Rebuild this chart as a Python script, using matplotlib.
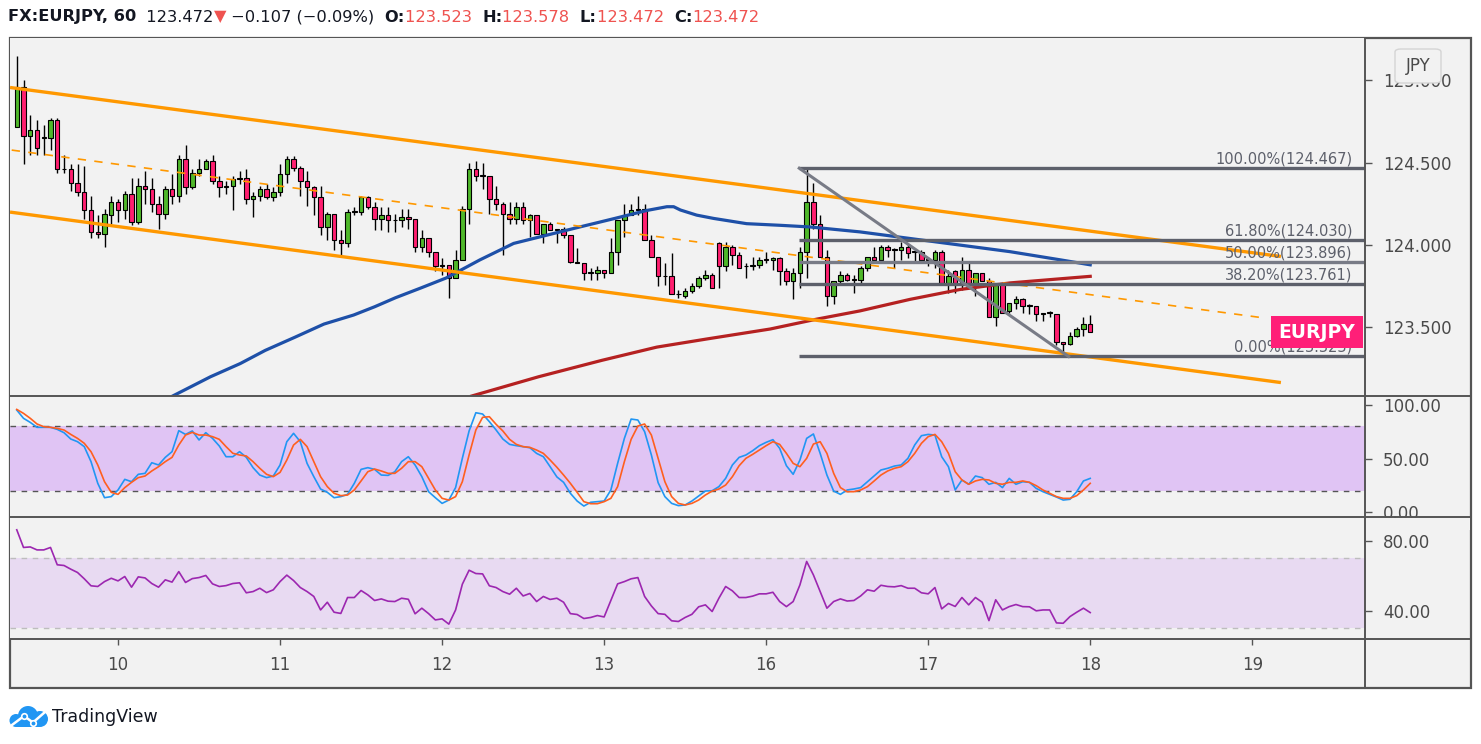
import numpy as np
import matplotlib
matplotlib.use("Agg")
import matplotlib.pyplot as plt
from matplotlib.patches import Rectangle, Circle, FancyBboxPatch
from matplotlib.lines import Line2D
from matplotlib.transforms import IdentityTransform

# ---------------- data ----------------
# hourly EURJPY candles, bar 0 = 9th ~08:00, bar 159 = 18th 00:00
opens = [124.72, 124.96, 124.66, 124.70, 124.65, 124.65, 124.76, 124.46, 124.46, 124.38,
         124.32, 124.21, 124.08, 124.07, 124.18, 124.26, 124.21, 124.31, 124.14, 124.36,
         124.34, 124.25, 124.19, 124.34, 124.30, 124.52, 124.35, 124.44, 124.46, 124.51,
         124.39, 124.35, 124.36, 124.40, 124.41, 124.28, 124.30, 124.34, 124.29, 124.32,
         124.43, 124.52, 124.47, 124.39, 124.35, 124.29, 124.11, 124.19, 124.03, 124.01,
         124.20, 124.20, 124.29, 124.23, 124.16, 124.18, 124.15, 124.15, 124.17, 124.16,
         123.99, 124.04, 123.96, 123.88, 123.88, 123.80, 123.91, 124.22, 124.46, 124.42,
         124.42, 124.28, 124.25, 124.19, 124.16, 124.23, 124.15, 124.18, 124.07, 124.13,
         124.09, 124.10, 124.06, 123.90, 123.89, 123.83, 123.83, 123.85, 123.83, 123.96,
         124.15, 124.18, 124.21, 124.22, 124.03, 123.93, 123.81, 123.81, 123.70, 123.69,
         123.72, 123.75, 123.80, 123.82, 124.01, 123.87, 123.99, 123.94, 123.87, 123.87,
         123.88, 123.91, 123.91, 123.92, 123.84, 123.78, 123.83, 123.96, 124.26, 124.13,
         123.93, 123.69, 123.78, 123.82, 123.79, 123.79, 123.86, 123.93, 123.91, 123.99,
         123.97, 123.97, 123.99, 123.96, 123.96, 123.91, 123.91, 123.96, 123.77, 123.84,
         123.77, 123.85, 123.77, 123.83, 123.78, 123.56, 123.77, 123.60, 123.65, 123.67,
         123.63, 123.63, 123.58, 123.59, 123.58, 123.41, 123.40, 123.45, 123.49, 123.523]
highs = [125.15, 125.00, 124.79, 124.76, 124.73, 124.77, 124.77, 124.55, 124.49, 124.49,
         124.48, 124.30, 124.18, 124.22, 124.30, 124.28, 124.33, 124.41, 124.41, 124.45,
         124.41, 124.30, 124.36, 124.43, 124.55, 124.61, 124.46, 124.52, 124.52, 124.55,
         124.42, 124.39, 124.42, 124.45, 124.46, 124.32, 124.36, 124.37, 124.35, 124.49,
         124.54, 124.54, 124.48, 124.45, 124.36, 124.36, 124.20, 124.19, 124.09, 124.22,
         124.23, 124.30, 124.30, 124.26, 124.23, 124.23, 124.19, 124.22, 124.22, 124.16,
         124.09, 124.04, 123.96, 123.92, 123.88, 123.97, 124.24, 124.50, 124.51, 124.50,
         124.42, 124.36, 124.26, 124.26, 124.26, 124.26, 124.19, 124.18, 124.13, 124.14,
         124.10, 124.11, 124.06, 123.98, 123.89, 123.86, 123.87, 123.85, 124.04, 124.15,
         124.25, 124.25, 124.30, 124.25, 124.06, 123.93, 123.89, 123.95, 123.73, 123.74,
         123.77, 123.81, 123.85, 123.83, 124.02, 124.02, 124.00, 123.96, 123.89, 123.93,
         123.93, 123.96, 123.93, 123.93, 123.86, 123.86, 123.99, 124.467, 124.38, 124.18,
         123.97, 123.78, 123.84, 123.83, 123.82, 123.87, 123.93, 123.99, 124.00, 124.00,
         123.98, 124.02, 124.00, 123.97, 123.97, 123.93, 123.97, 123.97, 123.85, 123.85,
         123.93, 123.89, 123.83, 123.83, 123.80, 123.77, 123.77, 123.65, 123.69, 123.68,
         123.64, 123.63, 123.59, 123.60, 123.58, 123.41, 123.47, 123.50, 123.56, 123.578]
lows = [124.72, 124.49, 124.55, 124.55, 124.55, 124.58, 124.44, 124.44, 124.33, 124.30,
        124.16, 124.04, 124.04, 123.99, 124.13, 124.14, 124.16, 124.12, 124.13, 124.25,
        124.20, 124.10, 124.16, 124.25, 124.26, 124.31, 124.34, 124.42, 124.46, 124.37,
        124.29, 124.31, 124.21, 124.37, 124.25, 124.17, 124.27, 124.28, 124.27, 124.30,
        124.38, 124.45, 124.30, 124.24, 124.18, 124.06, 124.03, 123.97, 123.93, 123.99,
        124.18, 124.18, 124.22, 124.09, 124.09, 124.08, 124.08, 124.11, 124.10, 123.96,
        123.96, 123.93, 123.84, 123.82, 123.68, 123.80, 123.91, 124.13, 124.39, 124.34,
        124.19, 124.21, 123.94, 124.13, 124.13, 124.13, 124.05, 124.07, 124.01, 124.09,
        124.01, 124.04, 123.89, 123.89, 123.79, 123.79, 123.79, 123.80, 123.83, 123.88,
        124.05, 124.18, 124.18, 124.03, 123.93, 123.75, 123.76, 123.70, 123.68, 123.68,
        123.71, 123.74, 123.79, 123.74, 123.74, 123.84, 123.88, 123.86, 123.80, 123.85,
        123.86, 123.89, 123.85, 123.76, 123.76, 123.67, 123.74, 123.80, 124.10, 123.93,
        123.63, 123.64, 123.77, 123.78, 123.71, 123.77, 123.84, 123.91, 123.91, 123.93,
        123.86, 123.91, 123.92, 123.90, 123.91, 123.87, 123.86, 123.77, 123.71, 123.71,
        123.73, 123.77, 123.69, 123.78, 123.56, 123.51, 123.59, 123.59, 123.61, 123.59,
        123.58, 123.54, 123.54, 123.56, 123.39, 123.323, 123.39, 123.44, 123.45, 123.472]
closes = [124.96, 124.66, 124.70, 124.59, 124.65, 124.76, 124.46, 124.46, 124.38, 124.32,
          124.21, 124.08, 124.07, 124.19, 124.26, 124.21, 124.31, 124.14, 124.36, 124.34,
          124.25, 124.19, 124.34, 124.30, 124.52, 124.35, 124.44, 124.46, 124.51, 124.39,
          124.35, 124.36, 124.40, 124.41, 124.28, 124.30, 124.34, 124.29, 124.32, 124.43,
          124.52, 124.47, 124.39, 124.35, 124.29, 124.11, 124.19, 124.03, 124.01, 124.20,
          124.20, 124.29, 124.23, 124.16, 124.18, 124.15, 124.15, 124.17, 124.16, 123.99,
          124.04, 123.96, 123.87, 123.87, 123.80, 123.91, 124.22, 124.46, 124.42, 124.42,
          124.28, 124.25, 124.19, 124.16, 124.23, 124.15, 124.18, 124.07, 124.13, 124.09,
          124.10, 124.06, 123.90, 123.89, 123.83, 123.83, 123.85, 123.83, 123.96, 124.15,
          124.18, 124.21, 124.22, 124.03, 123.93, 123.81, 123.81, 123.70, 123.70, 123.72,
          123.75, 123.80, 123.82, 123.74, 123.87, 123.99, 123.94, 123.86, 123.87, 123.88,
          123.91, 123.91, 123.92, 123.84, 123.78, 123.83, 123.96, 124.26, 124.13, 123.93,
          123.69, 123.78, 123.82, 123.79, 123.79, 123.86, 123.93, 123.91, 123.99, 123.97,
          123.97, 123.99, 123.95, 123.96, 123.91, 123.91, 123.96, 123.77, 123.81, 123.77,
          123.85, 123.77, 123.83, 123.78, 123.56, 123.77, 123.59, 123.65, 123.67, 123.63,
          123.63, 123.58, 123.59, 123.59, 123.41, 123.40, 123.45, 123.49, 123.52, 123.472]

# moving averages (bar index, price)
ma_blue_x = [23.1, 28.7, 33.1, 36.8, 41.2, 45.5, 49.9, 53.0, 56.1, 59.9, 63.6, 68.6, 73.6,
             78.5, 83.4, 88.4, 93.3, 96.3, 97.3, 98.3, 100.7, 103.2, 108.1, 113.1, 117.5,
             124.9, 132.3, 139.7, 147.1, 154.6, 159]
ma_blue_y = [123.083, 123.20, 123.28, 123.36, 123.44, 123.52, 123.575, 123.625, 123.68,
             123.74, 123.80, 123.91, 124.01, 124.06, 124.11, 124.16, 124.21, 124.233,
             124.233, 124.213, 124.182, 124.162, 124.13, 124.12, 124.11, 124.08, 124.04,
             124.00, 123.96, 123.91, 123.88]
ma_red_x = [67.4, 77.3, 86.7, 94.8, 102.3, 111.6, 118.5, 124.9, 132.3, 139.7, 147.1, 159]
ma_red_y = [123.083, 123.20, 123.30, 123.38, 123.43, 123.49, 123.55, 123.60, 123.67, 123.73,
            123.77, 123.81]

# channel drawing (start / end in bar index, price)
chan_x = [-0.75, 187.0]
chan_upper = [124.956, 123.932]
chan_lower = [124.199, 123.166]
chan_mid_x = [-0.75, 184.6]
chan_mid = [124.577, 123.558]

# fibonacci retracement
fib_start = 115.9
fib_pct = ["100.00%", "61.80%", "50.00%", "38.20%", "0.00%"]
fib_levels = [124.467, 124.030, 123.896, 123.761, 123.323]
trend_x = [115.9, 155.8]
trend_y = [124.467, 123.323]

stoch_k = [95.3, 87.6, 83.8, 79.2, 79.2, 79.2, 77.3, 74.2, 68.3, 65.8,
           61.2, 47.2, 27.0, 13.6, 14.6, 20.8, 30.7, 28.5, 35.4, 36.3,
           46.2, 44.1, 51.2, 56.5, 76.1, 72.6, 75.8, 67.4, 74.2, 68.9,
           61.8, 51.8, 51.8, 56.5, 51.2, 41.6, 34.7, 32.3, 33.8, 44.1,
           65.8, 73.6, 65.8, 45.6, 33.2, 21.7, 18.6, 13.6, 14.6, 16.7,
           27.0, 40.0, 41.6, 40.0, 34.7, 34.4, 37.8, 47.2, 51.8, 44.1,
           33.2, 19.2, 13.6, 8.3, 11.4, 23.0, 50.3, 75.8, 92.8, 91.6,
           84.5, 76.7, 68.3, 63.3, 62.1, 61.2, 60.2, 54.9, 51.8, 42.5,
           33.0, 27.9, 17.7, 10.5, 5.8, 9.3, 9.9, 10.5, 20.8, 45.6,
           68.9, 86.9, 86.0, 75.1, 53.4, 27.6, 14.6, 8.3, 6.2, 6.8,
           10.5, 15.2, 19.8, 20.1, 23.9, 31.6, 44.1, 51.2, 53.4, 57.4,
           62.1, 65.2, 67.7, 59.6, 43.4, 35.4, 48.7, 68.9, 73.0, 54.9,
           34.7, 19.8, 16.7, 20.8, 21.7, 23.0, 28.5, 34.1, 39.4, 41.0,
           43.1, 44.1, 50.3, 62.7, 71.4, 72.6, 72.0, 51.8, 42.5, 20.8,
           30.1, 26.1, 33.8, 32.3, 26.1, 27.9, 23.0, 31.6, 26.1, 28.5,
           27.9, 22.3, 19.2, 16.7, 14.2, 11.4, 12.1, 19.2, 29.2, 31.6]
stoch_d = [95.9, 92.2, 87.6, 82.3, 79.8, 79.2, 78.2, 76.7, 72.6, 68.9,
           64.3, 56.5, 44.1, 28.5, 18.6, 16.7, 23.0, 27.9, 32.3, 33.8,
           38.5, 42.5, 47.2, 51.2, 62.7, 72.0, 74.5, 72.0, 72.0, 70.5,
           68.0, 61.2, 55.0, 53.4, 52.5, 47.2, 41.0, 35.4, 33.2, 37.2,
           48.7, 62.7, 68.0, 61.2, 47.2, 33.2, 23.9, 17.7, 15.5, 16.1,
           20.8, 29.2, 37.8, 40.3, 38.5, 36.3, 36.3, 41.0, 47.2, 47.2,
           42.5, 31.6, 20.8, 13.0, 11.4, 14.6, 28.5, 53.4, 76.7, 88.5,
           89.1, 82.0, 75.8, 68.0, 63.3, 61.2, 60.5, 58.0, 54.9, 48.7,
           42.0, 34.7, 27.0, 18.6, 9.9, 8.0, 8.0, 9.9, 13.0, 23.9,
           47.2, 68.0, 80.4, 82.3, 72.0, 50.3, 28.5, 14.6, 8.3, 6.8,
           8.3, 11.4, 16.1, 19.8, 21.7, 25.4, 33.2, 43.4, 50.3, 54.0,
           58.0, 62.1, 65.8, 63.3, 54.9, 45.6, 42.5, 50.3, 63.6, 65.8,
           54.9, 36.3, 23.0, 19.2, 19.2, 20.8, 23.9, 29.2, 34.7, 38.5,
           41.0, 42.5, 47.2, 54.9, 64.3, 70.5, 72.6, 65.8, 54.9, 37.8,
           30.1, 26.1, 29.2, 30.7, 30.1, 27.0, 26.1, 27.9, 27.9, 29.2,
           27.9, 24.8, 20.8, 17.7, 14.6, 13.0, 13.0, 15.5, 20.8, 27.0]
rsi = [86.2, 76.1, 76.4, 74.7, 74.7, 76.1, 66.2, 65.8, 63.7, 61.8,
       58.2, 54.2, 53.8, 56.6, 58.5, 57.0, 59.5, 53.4, 59.3, 58.7,
       55.5, 53.4, 57.6, 56.3, 62.3, 56.1, 58.3, 58.9, 60.1, 55.3,
       53.8, 54.3, 55.5, 55.9, 50.2, 50.9, 52.8, 50.3, 51.9, 56.6,
       60.3, 57.2, 53.2, 50.9, 48.1, 40.4, 44.8, 39.1, 38.4, 47.5,
       47.5, 51.5, 49.0, 45.8, 46.7, 45.4, 45.2, 47.1, 46.5, 38.2,
       41.4, 38.3, 34.7, 35.3, 32.3, 40.4, 55.1, 63.1, 61.2, 61.0,
       54.2, 53.2, 50.9, 49.4, 52.8, 48.4, 49.8, 45.2, 48.1, 46.4,
       47.1, 44.8, 38.3, 37.8, 35.5, 36.1, 37.2, 36.4, 45.8, 55.3,
       56.6, 58.2, 58.9, 48.1, 42.7, 38.3, 37.9, 34.2, 33.8, 36.1,
       37.9, 42.2, 43.3, 39.5, 47.1, 53.8, 51.3, 47.5, 47.5, 48.3,
       49.6, 49.6, 50.5, 45.2, 42.3, 45.2, 54.7, 68.1, 60.4, 50.9,
       41.4, 45.2, 46.7, 45.5, 45.8, 48.4, 51.9, 51.1, 54.5, 53.8,
       53.6, 54.3, 52.8, 52.8, 50.2, 49.6, 53.2, 41.0, 44.1, 42.4,
       47.5, 43.3, 47.5, 44.8, 34.3, 46.2, 40.4, 42.3, 43.5, 42.3,
       42.2, 39.9, 40.4, 40.4, 33.0, 32.8, 36.6, 39.1, 41.4, 38.9]

day_ticks = [15, 39, 63, 87, 111, 135, 159, 183]
day_labels = ["10", "11", "12", "13", "16", "17", "18", "19"]
price_ticks = [123.5, 124.0, 124.5, 125.0]

# ---------------- style ----------------
W, H = 1481, 744
BG = "#f2f2f2"
FRAME = "#555555"
TXT = "#4a4a4a"
GREEN = "#4fb82a"
PINK = "#ff1f70"
ORANGE = "#ff9800"


def fx(x):
    return x / W


def fy(y):
    return 1 - y / H


fig = plt.figure(figsize=(W / 100, H / 100), dpi=100, facecolor="white")


def px_axes(x0, y0, x1, y1):
    a = fig.add_axes([fx(x0), fy(y1), (x1 - x0) / W, (y1 - y0) / H])
    a.set_facecolor(BG)
    for s in a.spines.values():
        s.set_visible(False)
    return a


# frame behind everything
fig.patches.append(Rectangle((fx(10), fy(688)), (1471 - 10) / W, (688 - 38) / H,
                             transform=fig.transFigure, facecolor=BG, edgecolor=FRAME,
                             lw=1.6, zorder=-1))

ax = px_axes(10, 38, 1365, 396)
ax_st = px_axes(10, 396, 1365, 517)
ax_rsi = px_axes(10, 517, 1365, 639)

idx = np.arange(len(closes))
o = np.array(opens)
c = np.array(closes)
hi = np.array(highs)
lo = np.array(lows)
XLIM = (-1.0, 199.7)

# ---------------- main pane ----------------
col = [GREEN if cc > oo else PINK for oo, cc in zip(o, c)]
ax.vlines(idx, lo, hi, color="black", lw=1.0, zorder=3)
ax.bar(idx, np.maximum(np.abs(c - o), 0.004), bottom=np.minimum(o, c), width=0.66,
       color=col, edgecolor="black", lw=0.8, zorder=4)

ax.plot(ma_blue_x, ma_blue_y, color="#1e50a8", lw=2.3, zorder=5, solid_joinstyle="round")
ax.plot(ma_red_x, ma_red_y, color="#b52121", lw=2.3, zorder=5, solid_joinstyle="round")

ax.plot(chan_x, chan_upper, color=ORANGE, lw=2.4, zorder=6)
ax.plot(chan_x, chan_lower, color=ORANGE, lw=2.4, zorder=6)
ax.plot(chan_mid_x, chan_mid, color=ORANGE, lw=1.2, ls=(0, (5, 5)), zorder=6)

for pct, lvl in zip(fib_pct, fib_levels):
    lc = "#787b86" if pct == "50.00%" else "#5d606b"
    ax.plot([fib_start, XLIM[1]], [lvl, lvl], color=lc, lw=2.4, zorder=7,
            solid_capstyle="butt")
    ax.annotate(f"{pct}({lvl:.3f})", xy=(197.8, lvl), xytext=(0, 1.5),
                textcoords="offset points", ha="right", va="bottom",
                fontsize=10.5, color="#5d606b", zorder=8)
ax.plot(trend_x, trend_y, color="#787b86", lw=2.2, zorder=7)

ax.set_xlim(*XLIM)
ax.set_ylim(123.083, 125.258)
ax.set_xticks([])
ax.yaxis.tick_right()
ax.set_yticks(price_ticks)
ax.set_yticklabels([f"{p:.3f}" for p in price_ticks])

# ---------------- stochastic ----------------
ax_st.axhspan(20, 80, color="#e0c4f4", lw=0, zorder=1)
for lv in (20, 80):
    ax_st.axhline(lv, color="#555555", lw=1.0, ls=(0, (4, 4)), zorder=2)
ax_st.plot(idx, stoch_k, color="#2196f3", lw=1.2, zorder=3)
ax_st.plot(idx, stoch_d, color="#ff5f1f", lw=1.2, zorder=4)
ax_st.set_xlim(*XLIM)
ax_st.set_ylim(-4.4, 108.4)
ax_st.set_xticks([])
ax_st.yaxis.tick_right()
ax_st.set_yticks([0, 50, 100])
ax_st.set_yticklabels(["0.00", "50.00", "100.00"])

# ---------------- RSI ----------------
ax_rsi.axhspan(30, 70, color="#e8daf2", lw=0, zorder=1)
for lv in (30, 70):
    ax_rsi.axhline(lv, color="#bdbdbd", lw=1.0, ls=(0, (4, 4)), zorder=2)
ax_rsi.plot(idx, rsi, color="#9c27b0", lw=1.2, zorder=3)
ax_rsi.set_xlim(*XLIM)
ax_rsi.set_ylim(23.8, 93.5)
ax_rsi.yaxis.tick_right()
ax_rsi.set_yticks([40, 80])
ax_rsi.set_yticklabels(["40.00", "80.00"])
ax_rsi.set_xticks(day_ticks)
ax_rsi.set_xticklabels(day_labels)

for a in (ax, ax_st, ax_rsi):
    a.tick_params(axis="y", length=5, width=1, color=FRAME, pad=8,
                  labelsize=12, labelcolor=TXT)
ax_rsi.tick_params(axis="x", length=4.5, width=1, color=FRAME, pad=8,
                   labelsize=12, labelcolor=TXT)

# separators
seps = [([10, 1471], [396, 396]), ([10, 1471], [517, 517]), ([10, 1471], [639, 639]),
        ([1365, 1365], [38, 688])]
for xs, ys in seps:
    fig.lines.append(Line2D([fx(v) for v in xs], [fy(v) for v in ys],
                            transform=fig.transFigure, color=FRAME, lw=1.4, zorder=2))
# hide the part of "0.00" that runs under the RSI pane
fig.patches.append(Rectangle((fx(1366), fy(530)), (1470 - 1366) / W, (530 - 518) / H,
                             transform=fig.transFigure, facecolor=BG, lw=0, zorder=1))

# JPY currency box and symbol label
fig.patches.append(FancyBboxPatch((fx(1395), fy(83)), (1441 - 1395) / W, (83 - 49) / H,
                                  boxstyle="round,pad=0,rounding_size=0.004",
                                  transform=fig.transFigure, facecolor=BG,
                                  edgecolor="#d4d4d4", lw=1.0, zorder=5))
fig.text(fx(1418), fy(66), "JPY", ha="center", va="center", fontsize=12, color=TXT,
         zorder=6)
fig.patches.append(Rectangle((fx(1271), fy(348)), (1363 - 1271) / W, (348 - 316) / H,
                             transform=fig.transFigure, facecolor="#ff1f78", lw=0, zorder=5))
fig.text(fx(1317), fy(332), "EURJPY", ha="center", va="center", fontsize=13.5,
         color="white", fontweight="bold", zorder=6)

# ---------------- header ----------------
header = [("FX:EURJPY, 60", "bold", "#131722"), ("  123.472", "normal", "#131722"),
          ("\u25bc", "normal", "#ef5350"), (" \u22120.107 (\u22120.09%)  ", "normal", "#131722"),
          ("O:", "bold", "#131722"), ("123.523  ", "normal", "#ef5350"),
          ("H:", "bold", "#131722"), ("123.578  ", "normal", "#ef5350"),
          ("L:", "bold", "#131722"), ("123.472  ", "normal", "#ef5350"),
          ("C:", "bold", "#131722"), ("123.472", "normal", "#ef5350")]
renderer = fig.canvas.get_renderer()
xpos = 8
for s, wgt, cl in header:
    t = fig.text(fx(xpos), fy(17), s, ha="left", va="center", fontsize=11.7,
                 fontweight=wgt, color=cl)
    xpos = t.get_window_extent(renderer).x1

# ---------------- TradingView logo (pixel coordinates) ----------------
LOGO = "#2196f3"
pix = IdentityTransform()
for (cx, cy, r) in [(28, 716, 10), (40, 719, 8), (16, 720.5, 6.5)]:
    fig.patches.append(Circle((cx, H - cy), r, transform=pix, facecolor=LOGO, lw=0))
fig.patches.append(Rectangle((16, H - 727), 24, 9, transform=pix, facecolor=LOGO, lw=0))
fig.lines.append(Line2D([12, 24, 33, 45], [H - 725, H - 716, H - 722.5, H - 712],
                        transform=pix, color="white", lw=1.8, solid_joinstyle="round"))
fig.lines.append(Line2D([24, 33], [H - 716, H - 722.5], transform=pix, ls="none",
                        marker="o", ms=4, mfc=LOGO, mec="white", mew=1.2))
fig.text(fx(52), fy(717), "TradingView", ha="left", va="center", fontsize=12.5,
         color="#131722")

fig.savefig("out.png", dpi=100, facecolor="white")
